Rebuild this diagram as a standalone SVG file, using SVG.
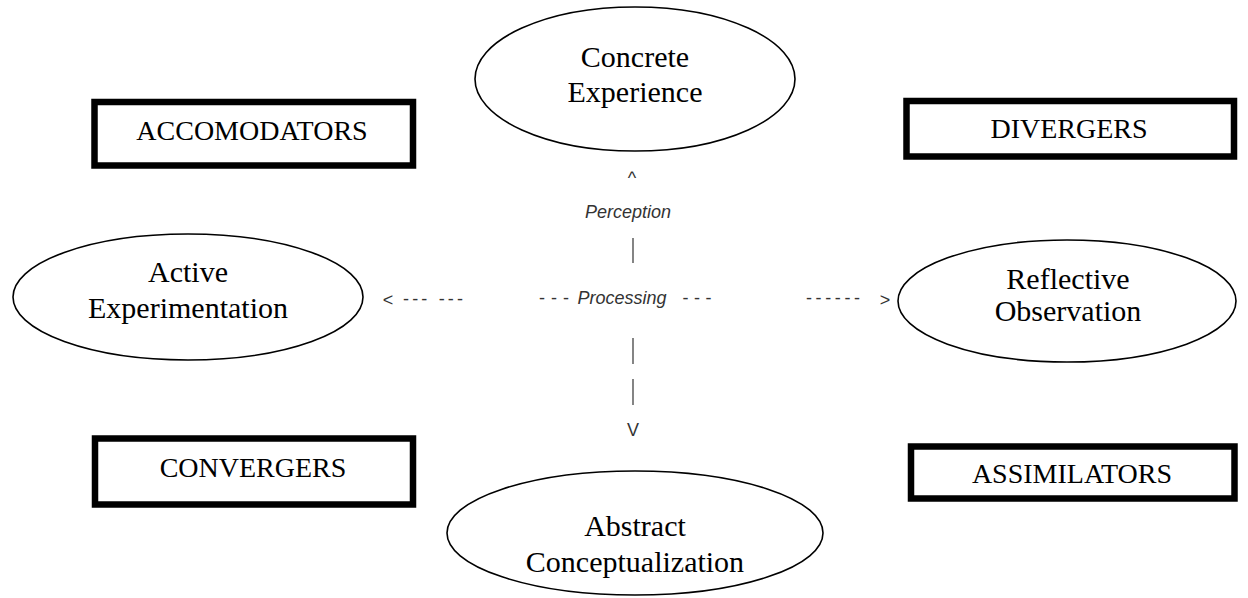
<svg xmlns="http://www.w3.org/2000/svg" width="1248" height="598" viewBox="0 0 1248 598">
<style>
.ell{fill:#fff;stroke:#000;stroke-width:1.6}
.box{fill:#fff;stroke:#000;stroke-width:6.5}
.big{font-family:"Liberation Serif","Times New Roman",serif;font-size:30px;fill:#000;text-anchor:middle}
.lbl{font-family:"Liberation Serif","Times New Roman",serif;font-size:28px;fill:#000;text-anchor:middle}
.sm{font-family:"Liberation Sans",Arial,sans-serif;font-size:18px;fill:#333;text-anchor:middle}
.it{font-style:italic}
.bar{stroke:#333;stroke-width:1.2}
</style>
<rect width="1248" height="598" fill="#fff"/>
<g id="concrete">
<ellipse class="ell" cx="635" cy="79" rx="160" ry="72"/>
<text class="big" x="635" y="67">Concrete</text>
<text class="big" x="635" y="102">Experience</text>
</g>
<g id="active">
<ellipse class="ell" cx="188" cy="297" rx="175" ry="63"/>
<text class="big" x="188" y="282">Active</text>
<text class="big" x="188" y="318">Experimentation</text>
</g>
<g id="reflective">
<ellipse class="ell" cx="1067" cy="301" rx="169" ry="61"/>
<text class="big" x="1068" y="289">Reflective</text>
<text class="big" x="1068" y="321">Observation</text>
</g>
<g id="abstract">
<ellipse class="ell" cx="635" cy="533" rx="188" ry="62"/>
<text class="big" x="635" y="536">Abstract</text>
<text class="big" x="635" y="572">Conceptualization</text>
</g>
<g id="accomodators">
<rect class="box" x="94.5" y="102" width="318.5" height="63.5"/>
<text class="lbl" x="252" y="140">ACCOMODATORS</text>
</g>
<g id="divergers">
<rect class="box" x="906.5" y="101" width="327.5" height="55.5"/>
<text class="lbl" x="1069" y="138">DIVERGERS</text>
</g>
<g id="convergers">
<rect class="box" x="95" y="438.5" width="318" height="66"/>
<text class="lbl" x="253" y="477">CONVERGERS</text>
</g>
<g id="assimilators">
<rect class="box" x="911" y="446.5" width="323.5" height="52"/>
<text class="lbl" x="1072" y="483">ASSIMILATORS</text>
</g>
<g id="connectors">
<text class="sm" x="632" y="184" font-size="20">^</text>
<text class="sm it" x="628" y="218">Perception</text>
<line class="bar" x1="633" y1="238" x2="633" y2="263"/>
<text class="sm" x="388" y="306" font-size="20">&lt;</text>
<text class="sm" x="433" y="305" textLength="60" lengthAdjust="spacing">--- ---</text>
<text class="sm" x="554" y="304" textLength="30" lengthAdjust="spacing">- - -</text>
<text class="sm it" x="622" y="304">Processing</text>
<text class="sm" x="697" y="304" textLength="29" lengthAdjust="spacing">- - -</text>
<text class="sm" x="833" y="304" textLength="54" lengthAdjust="spacing">------</text>
<text class="sm" x="885" y="306" font-size="20">&gt;</text>
<line class="bar" x1="633" y1="338" x2="633" y2="364"/>
<line class="bar" x1="633" y1="379" x2="633" y2="405"/>
<text class="sm" x="633" y="436" font-size="24">V</text>
</g>
</svg>
